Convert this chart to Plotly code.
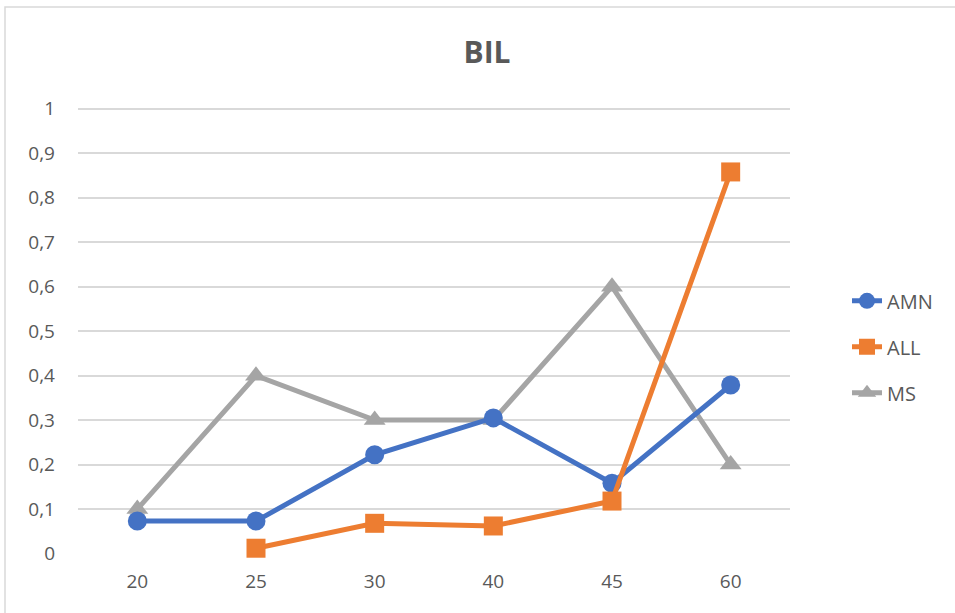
import plotly.graph_objects as go

# Category labels on the x axis
categories = ["20", "25", "30", "40", "45", "60"]

# Series values (None = no value at that category)
amn = [0.073, 0.073, 0.222, 0.305, 0.158, 0.379]
all_ = [None, 0.012, 0.068, 0.062, 0.118, 0.858]
ms = [0.1, 0.4, 0.3, 0.3, 0.6, 0.2]

y_ticks = [0, 0.1, 0.2, 0.3, 0.4, 0.5, 0.6, 0.7, 0.8, 0.9, 1]
y_ticktext = ["0", "0,1", "0,2", "0,3", "0,4", "0,5", "0,6", "0,7", "0,8", "0,9", "1"]

BLUE = "#4472C4"
ORANGE = "#ED7D31"
GRAY = "#A5A5A5"
TEXT = "#595959"
FONT = "Open Sans"

W, H = 955, 613
L, R, T, B = 78, 790, 107, 554.3

fig = go.Figure()

series = [
    ("MS", ms, GRAY, "triangle-up", 3),
    ("AMN", amn, BLUE, "circle", 1),
    ("ALL", all_, ORANGE, "square", 2),
]
for name, vals, color, symbol, rank in series:
    fig.add_trace(go.Scatter(
        x=categories, y=vals, name=name, mode="lines+markers",
        line=dict(color=color, width=5),
        marker=dict(symbol=symbol, size=19, color=color),
        cliponaxis=False, legendrank=rank, legendgroup=name,
        connectgaps=False,
    ))

# Light outer frame around the chart
fig.add_shape(type="rect", xref="paper", yref="paper",
              x0=(5 - L) / (R - L), x1=(962 - L) / (R - L),
              y0=(B - 620) / (B - T), y1=(B - 7) / (B - T),
              line=dict(color="#D9D9D9", width=1.5), fillcolor="rgba(0,0,0,0)",
              layer="below")

fig.update_layout(
    width=W, height=H,
    margin=dict(l=L, r=W - R, t=T, b=H - B, pad=0),
    paper_bgcolor="white", plot_bgcolor="white",
    font=dict(family=FONT, color=TEXT, size=19),
    title=dict(text="<b>BIL</b>", x=487 / W, xref="container", xanchor="center",
               y=1 - 52 / H, yref="container", yanchor="middle",
               font=dict(family=FONT, size=30, color=TEXT)),
    showlegend=True,
    legend=dict(x=(847 - L) / (R - L), xanchor="left", y=(B - 347) / (B - T), yanchor="middle",
                font=dict(family=FONT, size=20, color=TEXT), tracegroupgap=17,
                bgcolor="rgba(0,0,0,0)"),
    xaxis=dict(type="category", categoryorder="array", categoryarray=categories,
               range=[-0.5, 5.5], showgrid=False, showline=False, zeroline=False,
               ticks="", tickfont=dict(family=FONT, size=19, color=TEXT), ticklabelstandoff=14),
    yaxis=dict(range=[-0.001, 1.004], tickvals=y_ticks, ticktext=y_ticktext,
               showgrid=True, gridcolor="#D9D9D9", gridwidth=1.5, zeroline=False,
               showline=False, ticks="", tickfont=dict(family=FONT, size=19, color=TEXT),
               ticklabelstandoff=22),
)

fig.write_html("out.html")
